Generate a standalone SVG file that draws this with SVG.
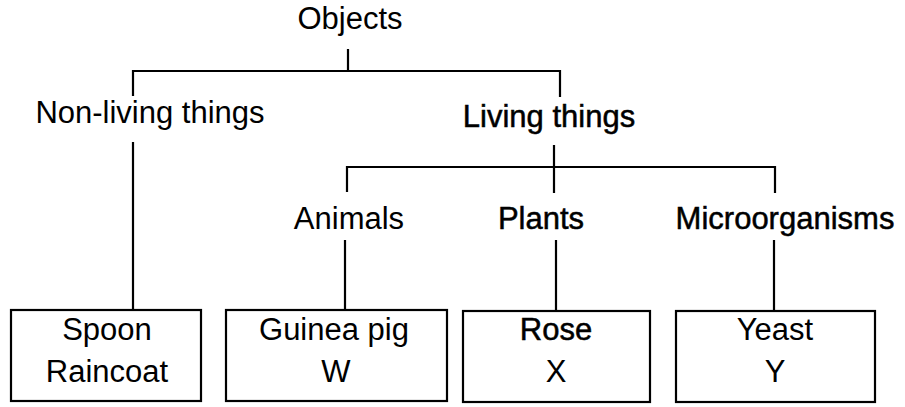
<svg xmlns="http://www.w3.org/2000/svg" width="905" height="407" viewBox="0 0 905 407">
<style>
text{font-family:"Liberation Sans",Arial,sans-serif;font-size:31px;fill:#000;text-anchor:middle}
.b{stroke:#000;stroke-width:0.5px}
.box{fill:#fff;stroke:#000;stroke-width:2.2}
.ln{fill:none;stroke:#000;stroke-width:2.2}
</style>
<rect width="905" height="407" fill="#fff"/>
<g id="connectors">
<path class="ln" d="M348 49V71M133 96V71H560V97"/>
<path class="ln" d="M133 142V310"/>
<path class="ln" d="M554 145V193M347 192V167H775V193"/>
<path class="ln" d="M345 240V310M556 240V311M774 240V311"/>
</g>
<g id="objects"><text x="350" y="29">Objects</text></g>
<g id="nonliving"><text x="150" y="123">Non-living things</text></g>
<g id="living"><text class="b" x="549" y="127">Living things</text></g>
<g id="animals"><text x="349" y="229">Animals</text></g>
<g id="plants"><text class="b" x="541" y="229">Plants</text></g>
<g id="micro"><text class="b" x="785" y="229">Microorganisms</text></g>
<g id="box1"><rect class="box" x="11" y="310" width="190" height="91"/><text x="107" y="340">Spoon</text><text x="107" y="382">Raincoat</text></g>
<g id="box2"><rect class="box" x="226" y="310" width="221" height="91"/><text x="334" y="340">Guinea pig</text><text x="336" y="382">W</text></g>
<g id="box3"><rect class="box" x="463" y="311" width="187" height="91"/><text class="b" x="556" y="340">Rose</text><text x="556" y="382">X</text></g>
<g id="box4"><rect class="box" x="676" y="311" width="199" height="91"/><text x="775" y="340">Yeast</text><text x="775" y="382">Y</text></g>
</svg>
